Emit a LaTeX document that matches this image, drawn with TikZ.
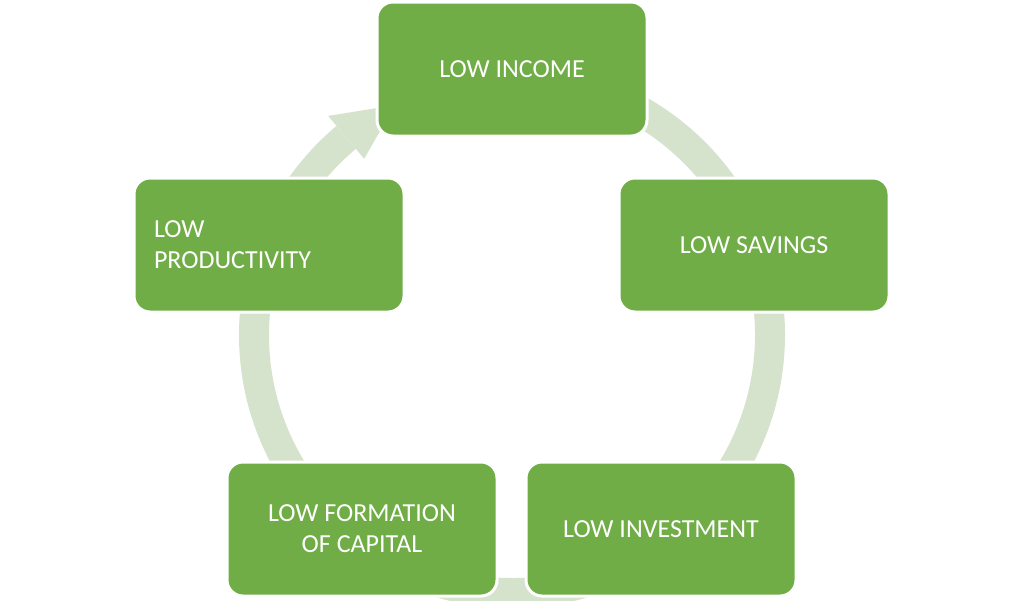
\documentclass[tikz,border=0pt]{standalone}
\usepackage{fontspec}
\setmainfont{Carlito}
\definecolor{boxgreen}{HTML}{70AD47}
\definecolor{ringgreen}{HTML}{D5E3CD}
\begin{document}
\begin{tikzpicture}[x=1pt,y=-1pt,
  cbox/.style={draw=white,line width=3pt,fill=boxgreen,rounded corners=16pt,minimum width=270pt,minimum height=134pt,text=white,font=\fontsize{26}{31}\selectfont,align=center,inner sep=0pt}]
\useasboundingbox (0,0) rectangle (1024,600);
\coordinate (c) at (512,335);
% ring
\draw[ringgreen,line width=30pt] ([shift={(-130:258)}]c) arc[start angle=-130,end angle=-480,radius=258];
\fill[ringgreen] ([shift={(-130:230)}]c) -- ([shift={(-130:286)}]c) -- ([shift={(-117:258)}]c) -- cycle;
% boxes
\node[cbox] (inc) at (512,69) {LOW INCOME};
\node[cbox] (sav) at (754,245) {LOW SAVINGS};
\node[cbox] (inv) at (661,529) {LOW INVESTMENT};
\node[cbox] (cap) at (362,529) {LOW FORMATION\\OF CAPITAL};
\node[cbox,align=left,text width=230pt] (pro) at (269,245) {LOW\\PRODUCTIVITY};
\end{tikzpicture}
\end{document}
